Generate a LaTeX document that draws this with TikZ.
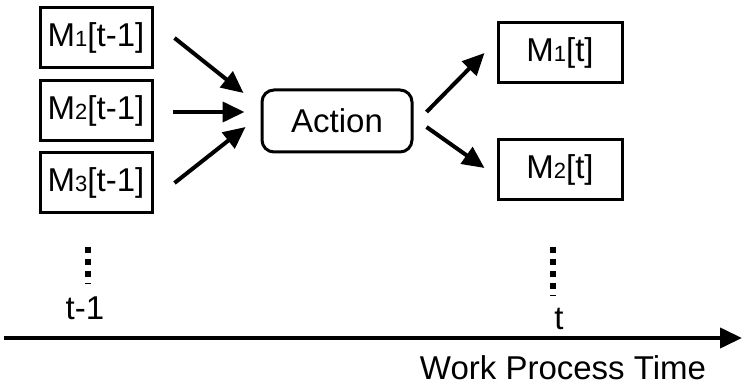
\documentclass[tikz,border=0pt]{standalone}
\usepackage{fontspec}
\setmainfont{Liberation Sans}
\usetikzlibrary{arrows.meta, positioning, calc}
\newcommand{\bigtxt}{\fontsize{33}{38}\selectfont}
\newcommand{\idx}[1]{{\fontsize{22}{26}\selectfont #1}}
\tikzset{
	statenode/.style={
			rectangle,
			draw=black,
			line width=3pt,
			fill=white,
			minimum height=60pt,
			inner sep=0pt,
			font=\bigtxt
		},
	prevnode/.style={
			statenode,
			minimum width=112pt
		},
	nownode/.style={
			statenode,
			minimum width=124pt
		},
	actionnode/.style={
			statenode,
			rounded corners=12pt,
			minimum width=150pt,
			minimum height=62pt
		},
	labelnode/.style={
			inner sep=0pt,
			text depth=0pt,
			anchor=base,
			font=\bigtxt
		},
	flow/.style={
			line width=4pt,
			-{Triangle[length=22pt,width=20pt]}
		},
	dotline/.style={
			line width=6pt,
			dash pattern=on 6pt off 6pt
		}
}

\begin{document}
\begin{tikzpicture}[x=1pt,y=-1pt]
\useasboundingbox (0,0) rectangle (742,387);

\node[prevnode] (mOnePrev) at (96,38) {M\idx{1}[t-1]};
\node[prevnode] (mTwoPrev) at (96,111) {M\idx{2}[t-1]};
\node[prevnode] (mThreePrev) at (96,183) {M\idx{3}[t-1]};
\node[actionnode] (act) at (337,121) {Action};
\node[nownode] (mOneNow) at (560,53) {M\idx{1}[t]};
\node[nownode] (mTwoNow) at (560,170) {M\idx{2}[t]};

\draw[flow] ([xshift=21pt]mOnePrev.east) -- ([xshift=-17pt,yshift=28pt]act.west);
\draw[flow] ([xshift=19pt,yshift=-1pt]mTwoPrev.east) -- ([xshift=-16pt,yshift=9pt]act.west);
\draw[flow] ([xshift=21pt]mThreePrev.east) -- ([xshift=-15pt,yshift=-6pt]act.west);

\draw[flow] ([xshift=13pt,yshift=9pt]act.east) -- ([xshift=-12pt]mOneNow.west);
\draw[flow] ([xshift=13pt,yshift=-6pt]act.east) -- ([xshift=-12pt,yshift=2pt]mTwoNow.west);

% time marks
\node[labelnode] (tPrev) at (85,320) {t-1};
\node[labelnode] (tNow) at (559,330) {t};
\coordinate (dotPrev) at (88,247);
\coordinate (dotNow) at (553,247);
\draw[dotline] (dotPrev) -- (dotPrev |- 0,284);
\draw[dotline] (dotNow) -- (dotNow |- 0,296);

% time axis
\coordinate (axStart) at (4,338);
\coordinate (axEnd) at (742,338);
\draw[flow] (axStart) -- (axEnd);
\node[labelnode] (axLabel) at (563,380) {Work Process Time};

\end{tikzpicture}
\end{document}
